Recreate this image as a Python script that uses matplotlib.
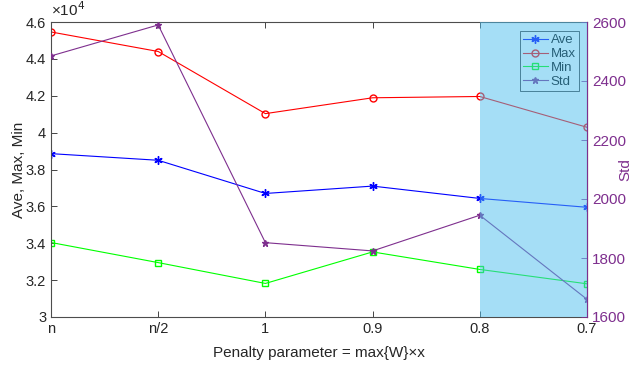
import matplotlib
matplotlib.use("Agg")
import matplotlib.pyplot as plt
from matplotlib.ticker import FuncFormatter

plt.rcParams['font.family'] = ['Liberation Sans', 'DejaVu Sans']

categories = ['n', 'n/2', '1', '0.9', '0.8', '0.7']
ave = [38860, 38500, 36700, 37100, 36430, 35950]
mx = [45460, 44400, 41030, 41890, 41960, 40290]
mn = [34040, 32950, 31820, 33530, 32580, 31800]
std = [2485, 2590, 1852, 1824, 1945, 1660]
shade_range = ('0.8', '0.7')

purple = '#7E2F8E'
dark = '#262626'

fig = plt.figure(figsize=(6.41, 3.66), dpi=100)
ax = fig.add_axes([51/641, 1-317/366, (587-51)/641, (317-22)/366])
ax2 = ax.twinx()

x = list(range(len(categories)))
lw = 0.8
l1, = ax.plot(x, ave, color='#0000FF', marker=(6, 2, 0), ms=6, mew=1.0, lw=lw, label='Ave')
l2, = ax.plot(x, mx, color='#FF0000', marker='o', ms=5, mfc='none', lw=lw, label='Max')
l3, = ax.plot(x, mn, color='#00FF00', marker='s', ms=4, mfc='none', lw=lw, label='Min')
l4, = ax2.plot(x, std, color=purple, marker='*', ms=5, lw=lw, label='Std')

ax.set_xlim(0, len(categories)-1)
ax.set_ylim(30000, 46000)
ax.set_yticks([30000 + 2000*i for i in range(9)])
ax.yaxis.set_major_formatter(FuncFormatter(lambda v, p: f'{v/1e4:g}'))
ax.set_xticks(x)
ax.set_xticklabels(categories)
ax2.set_ylim(1600, 2600)
ax2.set_yticks([1600, 1800, 2000, 2200, 2400, 2600])

ax.tick_params(axis='both', direction='in', length=4, width=0.6, colors=dark,
               labelsize=10.5, top=True, labelcolor=dark)
ax.tick_params(axis='y', right=False)
ax2.tick_params(axis='y', direction='in', length=4, width=0.6, colors=purple,
                labelsize=11, labelcolor=purple)
for s in ['left', 'bottom', 'top']:
    ax.spines[s].set_color('#4d4d4d')
    ax.spines[s].set_linewidth(0.8)
ax2.spines['right'].set_color(purple)
ax2.spines['right'].set_linewidth(0.8)
for s in ['left', 'bottom', 'top']:
    ax2.spines[s].set_visible(False)

ax.set_xlabel('Penalty parameter = max{W}×x', fontsize=11, color=dark, labelpad=7)
ax.set_ylabel('Ave, Max, Min', fontsize=11, color=dark)
ax.yaxis.set_label_coords(-0.047, 0.5)
ax2.set_ylabel('Std', fontsize=11, color=purple, rotation=90, va='center')
ax2.yaxis.set_label_coords(1.072, 0.5)

ax.text(0.0, 1.01, '×10$^{4}$', transform=ax.transAxes, fontsize=11, color=dark,
        ha='left', va='bottom')

leg = ax2.legend(handles=[l1, l2, l3, l4], loc='upper right',
                 bbox_to_anchor=(0.985, 0.97), fontsize=9.5, frameon=True,
                 fancybox=False, edgecolor=dark, framealpha=1, handlelength=1.9,
                 handletextpad=0.2, borderpad=0.25, labelspacing=0.12, borderaxespad=0)
leg.get_frame().set_linewidth(0.6)
leg.set_zorder(5)

i0 = categories.index(shade_range[0])
i1 = categories.index(shade_range[1])
ax2.axvspan(i0, i1, color=(0.301, 0.745, 0.933), alpha=0.5, lw=0, zorder=10)

fig.savefig('out.png', dpi=100)
